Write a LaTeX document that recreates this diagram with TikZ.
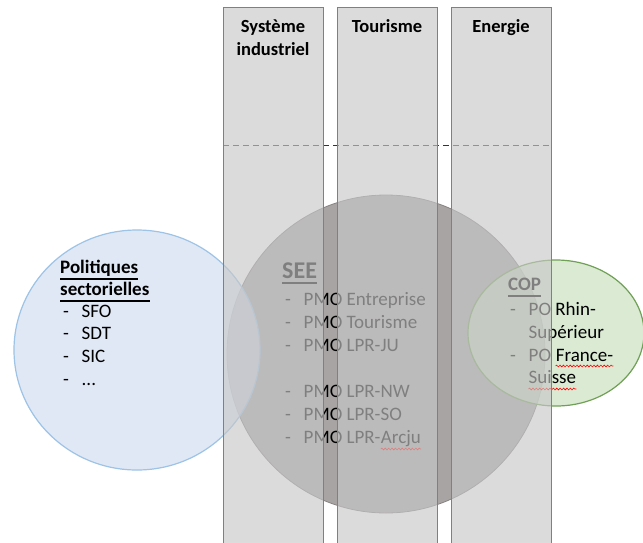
\documentclass[tikz,border=0pt]{standalone}
\usepackage{fontspec}
\setmainfont{Carlito}
\usetikzlibrary{decorations.pathmorphing}

\definecolor{bleuFond}{RGB}{212,223,242}
\definecolor{bleuTrait}{RGB}{157,195,230}
\definecolor{grisFond}{RGB}{168,164,164}
\definecolor{grisTrait}{RGB}{135,131,131}
\definecolor{vertFond}{RGB}{203,226,193}
\definecolor{vertTrait}{RGB}{112,160,86}
\definecolor{colFond}{RGB}{200,200,200}
\definecolor{colTrait}{RGB}{128,128,128}

\newcommand{\puce}[1]{\makebox[18.5pt][l]{-}#1}

\tikzset{
  colonne/.style={draw=colTrait, fill=colFond, fill opacity=0.64, line width=1pt},
  titre/.style={font=\fontsize{18.5}{22}\selectfont\bfseries, inner sep=0pt, anchor=base},
  ligne/.style={font=\fontsize{19}{23}\selectfont, inner sep=0pt, anchor=base west},
  souligne/.style={line width=1.3pt},
  faute/.style={draw=red, line width=0.6pt, decorate,
    decoration={snake, amplitude=0.9pt, segment length=3.4pt}},
}

\begin{document}
\begin{tikzpicture}[x=1pt, y=-1pt]
\useasboundingbox (0,0) rectangle (643,542);
\clip (0,0) rectangle (643,542);
\fill[white] (0,0) rectangle (643,542);

% cercles
\draw[draw=grisTrait, fill=grisFond, line width=0.8pt] (386,354) circle[radius=159];
\draw[draw=bleuTrait, fill=bleuFond, fill opacity=0.7, line width=1.2pt] (137,350) ellipse[x radius=123, y radius=120];
\draw[draw=vertTrait, fill=vertFond, fill opacity=0.7, line width=1.2pt] (556,333) ellipse[x radius=88, y radius=73];

% politiques sectorielles
\node[ligne] (pol1) at (60,273) {\textbf{Politiques}};
\node[ligne] (pol2) at (60,295) {\textbf{sectorielles}};
\draw[souligne] ([yshift=-6pt]pol1.base west) -- ([yshift=-6pt]pol1.base east);
\draw[souligne] ([yshift=-6pt]pol2.base west) -- ([yshift=-6pt]pol2.base east);
\node[ligne] (pol3) at (63,317) {\puce{SFO}};
\node[ligne] (pol4) at (63,339) {\puce{SDT}};
\node[ligne] (pol5) at (63,362) {\puce{SIC}};
\node[ligne] (pol6) at (63,385) {\puce{...}};

% SEE
\node[ligne, font=\fontsize{24}{28}\selectfont\bfseries] (see0) at (282,278) {SEE};
\draw[line width=1.8pt] ([yshift=-5pt]see0.base west) -- ([yshift=-5pt]see0.base east);
\node[ligne] (see1) at (285,305) {\puce{PMO Entreprise}};
\node[ligne] (see2) at (285,328) {\puce{PMO Tourisme}};
\node[ligne] (see3) at (285,351) {\puce{PMO LPR-JU}};
\node[ligne] (see4) at (285,397) {\puce{PMO LPR-NW}};
\node[ligne] (see5) at (285,420) {\puce{PMO LPR-SO}};
\node[ligne] (see6) at (285,443) {\puce{PMO LPR-}};
\node[ligne] (see6b) at (see6.base east) {Arcju};
\draw[faute] ([yshift=-6pt]see6b.base west) -- ([yshift=-6pt]see6b.base east);

% COP
\node[ligne] (cop0) at (508,290) {\textbf{COP}};
\draw[souligne] ([yshift=-6pt]cop0.base west) -- ([yshift=-6pt]cop0.base east);
\node[ligne] (cop1) at (510,315) {\puce{PO Rhin-}};
\node[ligne] (cop2) at (528.5,338) {Supérieur};
\node[ligne] (cop3) at (510,361) {\puce{PO\kern4.3pt}};
\node[ligne] (cop3b) at (cop3.base east) {France-};
\node[ligne] (cop4) at (528.5,383) {Suisse};
\draw[faute] ([yshift=-5pt]cop3b.base west) -- ([yshift=-5pt]cop3b.base east);
\draw[faute] ([yshift=-6pt]cop4.base west) -- ([yshift=-6pt]cop4.base east);

% pointilles + colonnes
\draw[draw=black!80, line width=1pt, dash pattern=on 6pt off 4pt] (223,145) -- (551,145);
\draw[colonne] (223,7) rectangle (323,545);
\draw[colonne] (337,7) rectangle (437,545);
\draw[colonne] (451,7) rectangle (551,545);

\node[titre] (hd1a) at (273,32) {Système};
\node[titre] (hd1b) at (273,55) {industriel};
\node[titre] (hd2) at (387,32) {Tourisme};
\node[titre] (hd3) at (501,32) {Energie};
\end{tikzpicture}
\end{document}
